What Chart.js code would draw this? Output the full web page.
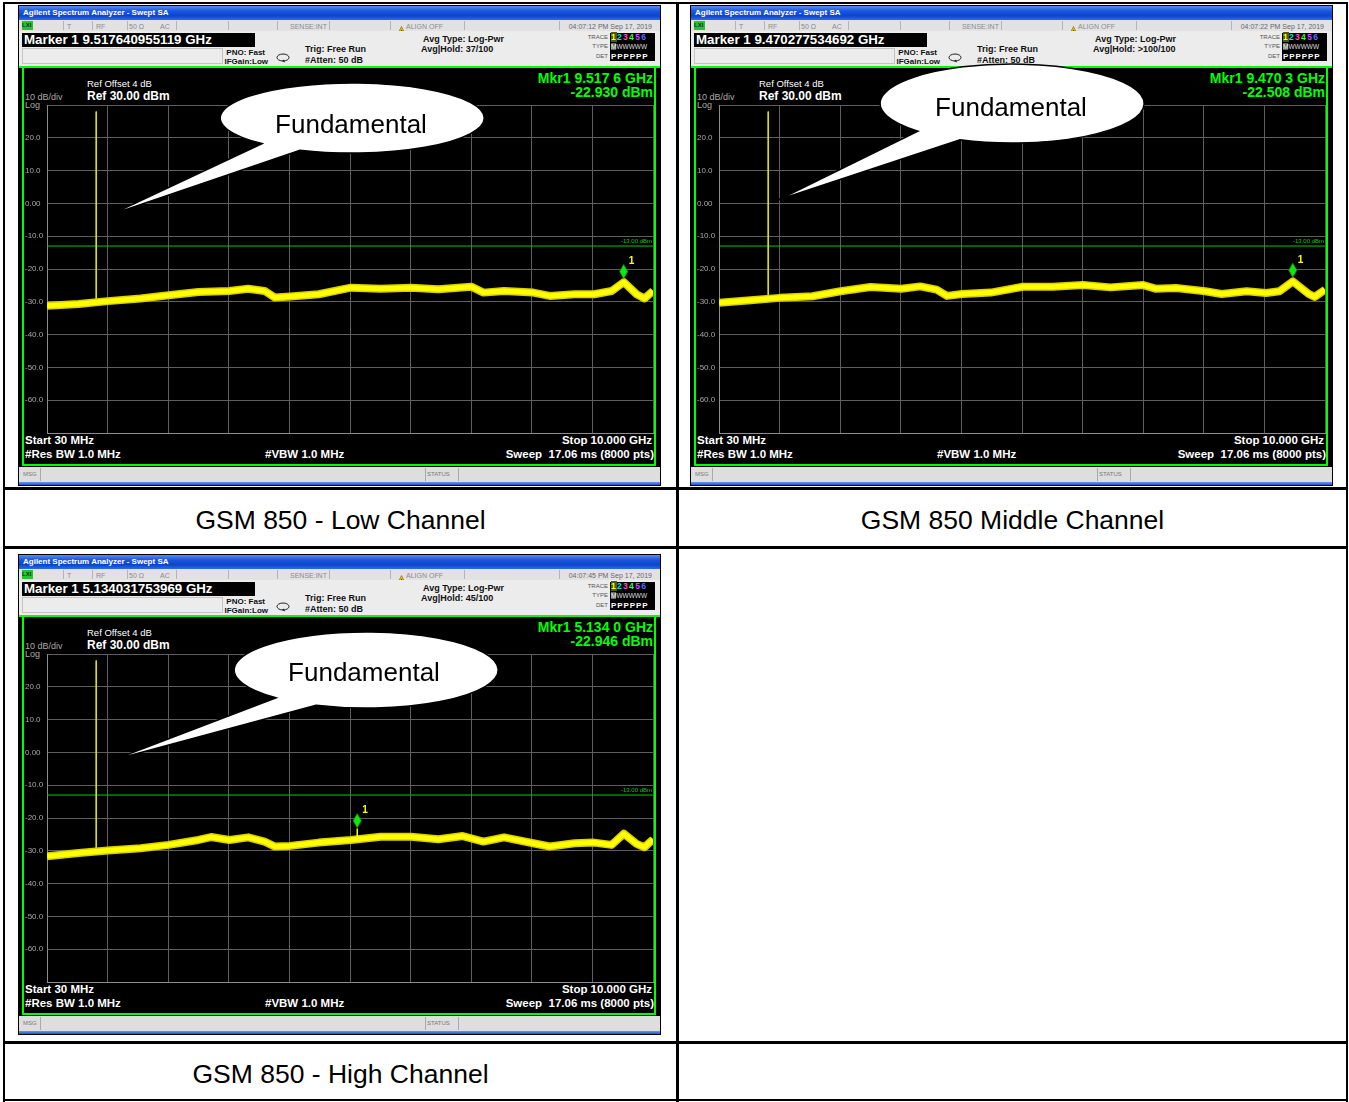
<!DOCTYPE html>
<html>
<head>
<meta charset="utf-8">
<title>GSM 850 conducted spurious emissions</title>
<script src="https://cdn.jsdelivr.net/npm/chart.js@4.4.1/dist/chart.umd.min.js"></script>
<style>
  html, body { margin: 0; padding: 0; background: #fff; }
  #page { position: relative; width: 1349px; height: 1102px; overflow: hidden; font-family: 'Liberation Sans', Arial, sans-serif; }
  .ln { position: absolute; background: #000; }
  .cap { position: absolute; font-size: 26.5px; color: #000; text-align: center; line-height: 30px; }
  .sa { position: absolute; width: 643px; height: 481px; background: #000; font-family: 'Liberation Sans', Arial, sans-serif; }
  .sa div { position: absolute; white-space: nowrap; }
  .sa canvas { position: absolute; left: 4px; top: 95px; }
  .sa svg.call { position: absolute; left: 0; top: 0; overflow: visible; z-index: 10; }
  .t { transform: translateY(-50%); line-height: 1; }
  .hb { font-weight: bold; font-size: 9px; color: #111; }
  .hs { font-size: 7px; color: #8a8a8a; }
  .wb { font-weight: bold; font-size: 11.5px; color: #fff; }
  .g { font-weight: bold; font-size: 14px; color: #00ff00; }
</style>
</head>
<body>
<div id="page"></div>
<script>
// sweep settings
const startGHz = 0.03;
const stopGHz = 10.0;
const refLevel = 30;
const bottomLevel = -70;
const limitLine = -13;
const fundFreq = 0.84;
const fundTop = 28;

// traces (GHz / dBm)
const lowFreq = [0.03, 0.55, 1.03, 1.57, 2.03, 2.52, 3.03, 3.34, 3.61, 3.78, 4.03, 4.50, 5.03, 5.52, 6.02, 6.47, 7.01, 7.21, 7.55, 8.03, 8.30, 8.71, 9.03, 9.32, 9.52, 9.73, 9.86, 10.0];
const lowAmp = [-31.2, -30.7, -29.8, -29.0, -28.0, -27.0, -26.7, -26.0, -26.7, -28.7, -28.4, -27.7, -25.7, -26.0, -25.7, -26.2, -25.4, -27.2, -26.7, -27.2, -28.2, -27.7, -27.7, -26.7, -24.0, -27.7, -29.0, -26.7];

const midFreq = [0.03, 0.55, 1.03, 1.57, 2.03, 2.52, 3.03, 3.34, 3.61, 3.78, 4.03, 4.50, 5.03, 5.52, 6.02, 6.47, 7.01, 7.21, 7.55, 8.03, 8.30, 8.71, 9.03, 9.25, 9.47, 9.73, 9.83, 10.0];
const midAmp = [-30.3, -29.5, -28.8, -28.3, -26.8, -25.5, -26.0, -25.3, -26.3, -28.2, -27.6, -27.2, -25.4, -25.4, -24.9, -25.6, -24.9, -26.0, -25.8, -26.8, -27.6, -26.8, -27.3, -26.8, -23.8, -27.6, -28.5, -26.3];

const highFreq = [0.03, 0.55, 1.03, 1.57, 2.03, 2.52, 2.73, 3.03, 3.34, 3.61, 3.78, 4.03, 4.50, 5.03, 5.52, 6.02, 6.47, 6.87, 7.21, 7.55, 8.03, 8.30, 8.71, 9.03, 9.32, 9.52, 9.73, 9.86, 10.0];
const highAmp = [-31.7, -30.7, -29.9, -29.2, -28.2, -26.7, -25.8, -26.7, -25.9, -27.2, -28.7, -28.5, -27.5, -26.7, -25.7, -25.7, -26.5, -25.5, -27.2, -25.9, -27.7, -28.7, -27.7, -27.5, -28.2, -24.8, -27.9, -28.9, -26.5];

// narrow spike under marker 1 of the high channel
const highSpikeFreq = [5.134, 5.134];
const highSpikeAmp = [-26.4, -23.2];

// marker 1 per plot
const markerFreq = [9.5176, 9.4703, 5.1340];
const markerAmp = [-22.930, -22.508, -22.946];
const markerFull = ['9.517640955119', '9.470277534692', '5.134031753969'];
const markerShort = ['9.517 6', '9.470 3', '5.134 0'];
const timeStamp = ['04:07:12 PM', '04:07:22 PM', '04:07:45 PM'];
const avgHold = ['37/100', '&gt;100/100', '45/100'];
const captions = ['GSM 850 - Low Channel', 'GSM 850 Middle Channel', 'GSM 850 - High Channel'];

const page = document.getElementById('page');

// table lines
const lines = [
    [3, 2, 1345, 2], [3, 2, 2, 1100], [1346, 2, 2, 1100], [3, 1099, 1345, 2],
    [676, 2, 3, 1100], [3, 487, 1345, 3], [3, 546, 1345, 3], [3, 1041, 1345, 3]
];
lines.forEach(l => {
    const d = document.createElement('div');
    d.className = 'ln';
    d.style.cssText = `left:${l[0]}px;top:${l[1]}px;width:${l[2]}px;height:${l[3]}px`;
    page.appendChild(d);
});

const capPos = [[5, 505, 671], [679, 505, 667], [5, 1059, 671]];
captions.forEach((c, i) => {
    const d = document.createElement('div');
    d.className = 'cap';
    d.style.cssText = `left:${capPos[i][0]}px;top:${capPos[i][1]}px;width:${capPos[i][2]}px`;
    d.textContent = c;
    page.appendChild(d);
});

const T = (x, y, s, cls, extra = '') => `<div class="t ${cls}" style="left:${x}px;top:${y}px;${extra}">${s}</div>`;
const TR = (r, y, s, cls, extra = '') => `<div class="t ${cls}" style="right:${r}px;top:${y}px;${extra}">${s}</div>`;

function chromeHtml(i) {
    let h = '';
    // title bar
    h += `<div style="left:1px;top:1px;width:641px;height:14px;background:linear-gradient(#5b8cf0,#1b56dc 35%,#0a45cc 70%,#2f6be6)"></div>`;
    h += T(5, 8, 'Agilent Spectrum Analyzer - Swept SA', '', 'font-size:8px;font-weight:bold;color:#fff');
    // status row
    h += `<div style="left:1px;top:15px;width:641px;height:11px;background:#e2e2e2"></div>`;
    [45, 74, 109, 158, 210, 259, 311, 372, 446, 541].forEach(x => {
        h += `<div style="left:${x}px;top:16px;width:1px;height:9px;background:#b4b4b4"></div>`;
    });
    h += `<div style="left:4px;top:16px;width:11px;height:9px;background:#27c427;font-size:6px;line-height:9px;font-weight:bold;color:#033">LXI</div>`;
    h += T(49, 21, 'T', 'hs');
    h += T(78, 21, 'RF', 'hs');
    h += T(111, 21, '50 Ω', 'hs');
    h += T(142, 21, 'AC', 'hs');
    h += T(272, 21, 'SENSE:INT', 'hs');
    h += `<div style="left:379px;top:16px"><svg width="9" height="9"><path d="M4.5 0.5 L8.5 8.5 L0.5 8.5 Z" fill="#f2c200" stroke="#7a5a00" stroke-width="0.6"/><text x="4.5" y="8" font-size="6" text-anchor="middle" font-weight="bold">!</text></svg></div>`;
    h += T(388, 21, 'ALIGN OFF', 'hs');
    h += TR(9, 21, `${timeStamp[i]} Sep 17, 2019`, 'hs', 'color:#666');
    // settings row
    h += `<div style="left:1px;top:26px;width:641px;height:35px;background:#ececec"></div>`;
    h += `<div style="left:4px;top:28px;width:233px;height:14px;background:#000"></div>`;
    h += T(6, 35, `Marker 1 ${markerFull[i]} GHz`, '', 'font-size:13.3px;font-weight:bold;color:#fff');
    h += `<div style="left:4px;top:43px;width:201px;height:16px;border:1px solid #c4c4c4;box-sizing:border-box"></div>`;
    h += TR(396, 48, 'PNO: Fast', 'hb', 'font-size:8px');
    h += TR(393, 57, 'IFGain:Low', 'hb', 'font-size:8px');
    h += `<div style="left:258px;top:44px"><svg width="15" height="10"><ellipse cx="7" cy="4.5" rx="6" ry="3.5" fill="none" stroke="#222" stroke-width="1"/><path d="M6 8 L9 9.5 L8 6.5 Z" fill="#222"/></svg></div>`;
    h += T(287, 44, 'Trig: Free Run', 'hb');
    h += T(287, 55, '#Atten: 50 dB', 'hb');
    h += T(405, 34, 'Avg Type: Log-Pwr', 'hb');
    h += T(403, 44, `Avg|Hold: ${avgHold[i]}`, 'hb');
    h += TR(53, 32, 'TRACE', 'hs', 'font-size:6px;color:#555');
    h += TR(53, 41, 'TYPE', 'hs', 'font-size:6px;color:#555');
    h += TR(53, 51, 'DET', 'hs', 'font-size:6px;color:#555');
    h += `<div style="left:592px;top:28px;width:45px;height:28px;background:#000"></div>`;
    h += `<div style="left:593px;top:28px;font-size:8.5px;font-weight:bold;line-height:9px;letter-spacing:1.3px"><span style="background:#4d5a10;color:#ffff00">1</span><span style="color:#00e6e6">2</span><span style="color:#ff4ad2">3</span><span style="color:#3cff3c">4</span><span style="color:#d048ff">5</span><span style="color:#5070ff">6</span></div>`;
    h += `<div style="left:593px;top:38px;font-size:6.5px;line-height:8px;color:#ddd"><span style="background:#666;color:#fff">M</span>WWWWW</div>`;
    h += `<div style="left:593px;top:47px;font-size:8px;font-weight:bold;line-height:9px;color:#fff;letter-spacing:0.9px">PPPPPP</div>`;
    // display area
    h += `<div style="left:1px;top:61px;width:641px;height:2px;background:#00ff00"></div>`;
    h += `<div style="left:4px;top:61px;width:634px;height:400px;border:2px solid #00ff00;box-sizing:border-box;background:#000"></div>`;
    h += T(69, 79, 'Ref Offset 4 dB', '', 'font-size:9.5px;color:#fff');
    h += T(69, 91, 'Ref 30.00 dBm', '', 'font-size:12px;font-weight:bold;color:#fff');
    h += T(7, 92, '10 dB/div', '', 'font-size:9px;color:#aaa');
    h += T(7, 100, 'Log', '', 'font-size:9px;color:#aaa');
    h += TR(8, 73, `Mkr1 ${markerShort[i]} GHz`, 'g');
    h += TR(8, 87, `${markerAmp[i].toFixed(3)} dBm`, 'g');
    h += T(7, 436, 'Start 30 MHz', 'wb');
    h += TR(9, 436, 'Stop 10.000 GHz', 'wb');
    h += T(7, 450, '#Res BW 1.0 MHz', 'wb');
    h += T(247, 450, '#VBW 1.0 MHz', 'wb');
    h += TR(7, 450, 'Sweep&nbsp;&nbsp;17.06 ms (8000 pts)', 'wb');
    // message bar
    h += `<div style="left:1px;top:462px;width:641px;height:15px;background:#dedede"></div>`;
    [22, 407, 440].forEach(x => {
        h += `<div style="left:${x}px;top:463px;width:1px;height:13px;background:#aaa"></div>`;
    });
    h += T(5, 469, 'MSG', 'hs', 'font-size:6px;color:#777');
    h += T(409, 469, 'STATUS', 'hs', 'font-size:6px;color:#777');
    h += `<div style="left:1px;top:477px;width:641px;height:3px;background:linear-gradient(#6a96ee,#1f55c8)"></div>`;
    return h;
}

// callout bubbles: ellipse centre, radii, tail base points, tail tip, text centre
const callouts = [
    { cx: 334, cy: 113, rx: 132, ry: 35, a: [244, 138.6], b: [282, 145.2], tip: [92, 210], tx: 333, ty: 119 },
    { cx: 322, cy: 98.5, rx: 132, ry: 39.5, a: [228, 126.2], b: [270, 134.8], tip: [88, 195], tx: 321, ty: 102 },
    { cx: 348, cy: 116, rx: 132, ry: 38, a: [258, 143.8], b: [298, 151.2], tip: [95, 206], tx: 346, ty: 118 }
];

function calloutSvg(c) {
    const d = `M${c.a[0]} ${c.a[1]} A${c.rx} ${c.ry} 0 1 1 ${c.b[0]} ${c.b[1]} L${c.tip[0]} ${c.tip[1]} Z`;
    return `<svg class="call" width="643" height="481"><path d="${d}" fill="#fff" stroke="#000" stroke-width="1.5" stroke-linejoin="miter"/>` +
        `<text x="${c.tx}" y="${c.ty}" font-family="Liberation Sans, Arial, sans-serif" font-size="26" text-anchor="middle" dominant-baseline="central" fill="#000">Fundamental</text></svg>`;
}

const screenPos = [[18, 5], [690, 5], [18, 554]];
const traces = [[lowFreq, lowAmp], [midFreq, midAmp], [highFreq, highAmp]];
const spikes = [[], [], highSpikeFreq.map((f, k) => ({ x: f, y: highSpikeAmp[k] }))];
const xGrid = Array.from({ length: 11 }, (_, k) => startGHz + k * (stopGHz - startGHz) / 10);

Chart.defaults.font.family = "'Liberation Sans', Arial, sans-serif";

const markerPlugin = {
    id: 'mkr',
    afterDatasetsDraw(chart, args, opts) {
        const ctx = chart.ctx;
        const xs = chart.scales.x, ys = chart.scales.y;
        const area = chart.chartArea;
        // limit line label
        ctx.save();
        ctx.fillStyle = '#00d000';
        ctx.font = "6px 'Liberation Sans', Arial";
        ctx.textAlign = 'right';
        ctx.textBaseline = 'bottom';
        ctx.fillText('-13.00 dBm', area.right - 1, ys.getPixelForValue(limitLine) - 2);
        // marker diamond
        const px = xs.getPixelForValue(opts.f);
        const py = ys.getPixelForValue(opts.a);
        ctx.beginPath();
        ctx.moveTo(px, py);
        ctx.lineTo(px + 4, py - 7);
        ctx.lineTo(px, py - 14);
        ctx.lineTo(px - 4, py - 7);
        ctx.closePath();
        ctx.fillStyle = '#12e612';
        ctx.fill();
        ctx.strokeStyle = '#0a9a0a';
        ctx.lineWidth = 0.8;
        ctx.stroke();
        ctx.fillStyle = '#ffff00';
        ctx.font = "bold 10px 'Liberation Sans', Arial";
        ctx.textAlign = 'left';
        ctx.textBaseline = 'middle';
        ctx.fillText('1', px + 5, py - 17);
        ctx.restore();
    }
};

screenPos.forEach((p, i) => {
    const sa = document.createElement('div');
    sa.className = 'sa';
    sa.style.left = p[0] + 'px';
    sa.style.top = p[1] + 'px';
    sa.innerHTML = chromeHtml(i) + '<canvas width="634" height="338"></canvas>' + calloutSvg(callouts[i]);
    page.appendChild(sa);

    const [freq, amp] = traces[i];
    const pts = freq.map((f, k) => ({ x: f, y: amp[k] }));
    const ctx = sa.querySelector('canvas').getContext('2d');

    new Chart(ctx, {
        type: 'line',
        data: {
            datasets: [{
                data: pts,
                borderColor: '#ffff00',
                borderWidth: 5,
                borderJoinStyle: 'round',
                pointRadius: 0,
                order: 1
            }, {
                data: pts,
                borderColor: '#ddd000',
                borderWidth: 8,
                borderJoinStyle: 'round',
                pointRadius: 0,
                order: 2
            }, {
                data: spikes[i],
                borderColor: '#ffff00',
                borderWidth: 1.5,
                pointRadius: 0,
                order: 0
            }, {
                data: [{ x: fundFreq, y: fundTop }, { x: fundFreq, y: amp[1] }],
                borderColor: '#e6e600',
                borderWidth: 1,
                pointRadius: 0,
                order: 3
            }, {
                data: [{ x: startGHz, y: limitLine }, { x: stopGHz, y: limitLine }],
                borderColor: '#00c800',
                borderWidth: 1,
                pointRadius: 0,
                order: 4
            }]
        },
        options: {
            responsive: false,
            animation: false,
            events: [],
            layout: { padding: { left: 3, right: 3, top: 5, bottom: 5 } },
            scales: {
                x: {
                    type: 'linear',
                    min: startGHz,
                    max: stopGHz,
                    afterBuildTicks: (s) => { s.ticks = xGrid.map(v => ({ value: v })); },
                    afterFit: (s) => { s.height = 0; },
                    ticks: { display: false },
                    grid: { color: '#5e5e5e', lineWidth: 1, drawTicks: false },
                    border: { color: '#8c8c8c' }
                },
                y: {
                    min: bottomLevel,
                    max: refLevel,
                    afterFit: (s) => { s.width = 22; },
                    ticks: {
                        stepSize: 10,
                        padding: 0,
                        crossAlign: 'far',
                        color: '#a8a8a8',
                        font: { size: 8 },
                        callback: (v) => (v === refLevel || v === bottomLevel) ? '' : (v === 0 ? '0.00' : v.toFixed(1))
                    },
                    grid: { color: '#5e5e5e', lineWidth: 1, drawTicks: false },
                    border: { color: '#8c8c8c' }
                }
            },
            plugins: {
                legend: { display: false },
                tooltip: { enabled: false },
                mkr: { f: markerFreq[i], a: markerAmp[i] }
            }
        },
        plugins: [markerPlugin]
    });
});
</script>
</body>
</html>
